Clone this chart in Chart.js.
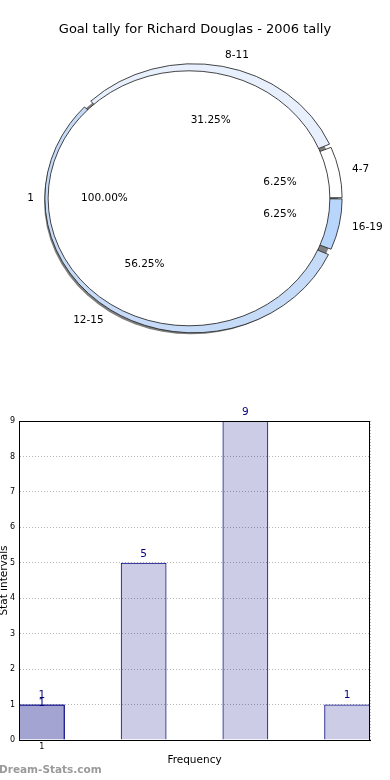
<!DOCTYPE html>
<html>
<head>
<meta charset="utf-8">
<title>Goal tally for Richard Douglas - 2006 tally</title>
<script src="https://cdn.jsdelivr.net/npm/chart.js@4.4.0/dist/chart.umd.min.js"></script>
<style>
  html, body { margin: 0; padding: 0; background: #fff; }
  body { width: 390px; height: 780px; overflow: hidden; position: relative; }
  canvas { position: absolute; left: 0; }
  #pieChart { top: 0; }
  #barChart { top: 360px; }
</style>
</head>
<body>
<canvas id="pieChart" width="390" height="360"></canvas>
<canvas id="barChart" width="390" height="420"></canvas>
<script>
// pie: goal tally bins (outer ring) and the single inner group
const tallyBins = ['4-7', '8-11', '12-15', '16-19'];
const tallyCounts = [1, 5, 9, 1];
const innerLabels = ['1'];
const innerCounts = [1];

// bars: frequency per interval, plus the extra bar drawn over the first one
const freqTickLabels = ['1'];
const freqCounts = [1, 5, 9, 1];
const overlayCounts = [1];

// styles
const ringColors = ['#ffffff', '#e8effd', '#c6dbf8', '#b8d6fb'];
const stretchX = 1.105;
const barWidth = 0.45;
const barFill = 'rgba(0, 0, 128, 0.2)';
const barEdge = '#000080';

Chart.defaults.font.family = '"DejaVu Sans", sans-serif';
Chart.defaults.color = '#000';

// matplotlib starts at 3 o'clock and goes counter-clockwise, Chart.js goes clockwise
const rev = (arr) => arr.slice().reverse();

function ellipseTransform(ctx, arc, shiftX) {
  ctx.translate(arc.x + shiftX, arc.y);
  ctx.scale(stretchX, 1);
  ctx.translate(-arc.x, -arc.y);
}

const ellipsePlugin = {
  id: 'ellipse',
  afterDatasetUpdate(chart, args) {
    // the ring wedges are full wedges, the inner pie covers their middle
    if (args.index !== 0) return;
    args.meta.data.forEach((arc) => {
      arc.innerRadius = 0;
    });
  },
  beforeDatasetsDraw(chart) {
    // shadow below the whole pie
    const ds = chart.data.datasets[0];
    const arc = chart.getDatasetMeta(0).data[0];
    const ctx = chart.ctx;
    ctx.save();
    ctx.translate(-2.5, 3);
    ellipseTransform(ctx, arc, ds.shiftX);
    ctx.fillStyle = 'rgba(0, 0, 0, 0.5)';
    ctx.beginPath();
    ctx.arc(arc.x, arc.y, arc.outerRadius, 0, Math.PI * 2);
    ctx.fill();
    ctx.restore();
  },
  beforeDatasetDraw(chart, args) {
    const ds = chart.data.datasets[args.index];
    const ctx = chart.ctx;
    ctx.save();
    ellipseTransform(ctx, args.meta.data[0], ds.shiftX);
  },
  afterDatasetDraw(chart, args) {
    const ds = chart.data.datasets[args.index];
    const ctx = chart.ctx;
    if (ds.outline) {
      const arc = args.meta.data[0];
      ctx.strokeStyle = ds.outline;
      ctx.lineWidth = 0.8;
      ctx.beginPath();
      ctx.arc(arc.x, arc.y, arc.outerRadius, 0, Math.PI * 2);
      ctx.stroke();
    }
    ctx.restore();
  },
  afterDraw(chart) {
    const ctx = chart.ctx;
    ctx.save();
    ctx.font = '10.5px "DejaVu Sans", sans-serif';
    ctx.fillStyle = '#000';
    ctx.textBaseline = 'middle';
    chart.data.datasets.forEach((ds, di) => {
      const meta = chart.getDatasetMeta(di);
      const total = ds.data.reduce((a, b) => a + b, 0);
      meta.data.forEach((arc, i) => {
        const mid = (arc.startAngle + arc.endAngle) / 2;
        const cx = arc.x + ds.shiftX;
        const cy = arc.y;
        const r = arc.outerRadius;
        const cos = Math.cos(mid);
        const sin = Math.sin(mid);
        ctx.textAlign = cos > 0.001 ? 'left' : cos < -0.001 ? 'right' : 'center';
        ctx.fillText(ds.sliceLabels[i], cx + 1.1 * r * cos * stretchX, cy + 1.1 * r * sin);
        ctx.textAlign = 'center';
        const pct = ((ds.data[i] / total) * 100).toFixed(2) + '%';
        ctx.fillText(pct, cx + 0.6 * r * cos * stretchX, cy + 0.6 * r * sin);
      });
    });
    ctx.restore();
  },
};

new Chart(document.getElementById('pieChart'), {
  type: 'doughnut',
  data: {
    datasets: [
      {
        data: rev(tallyCounts),
        sliceLabels: rev(tallyBins),
        shiftX: -1.5,
        backgroundColor: rev(ringColors),
        borderColor: '#222',
        borderWidth: 0.8,
        spacing: 3,
        weight: 5.5,
        order: 1,
        clip: false,
      },
      {
        data: innerCounts,
        sliceLabels: innerLabels,
        shiftX: -6,
        outline: '#222',
        backgroundColor: '#ffffff',
        borderWidth: 0,
        weight: 127.5,
        order: 0,
        clip: false,
      },
    ],
  },
  options: {
    responsive: false,
    animation: false,
    rotation: 90,
    radius: 133,
    cutout: 0,
    layout: { padding: { top: 0, right: 0, bottom: 1, left: 0 } },
    plugins: {
      legend: { display: false },
      tooltip: { enabled: false },
      title: {
        display: true,
        text: 'Goal tally for Richard Douglas - 2006 tally',
        font: { size: 13, weight: 'normal' },
        color: '#000',
        padding: { top: 22, bottom: 0 },
      },
    },
  },
  plugins: [ellipsePlugin],
});

const barExtras = {
  id: 'barExtras',
  afterDraw(chart) {
    const ctx = chart.ctx;
    const area = chart.chartArea;
    ctx.save();

    // frame round the plot
    ctx.strokeStyle = '#000';
    ctx.lineWidth = 1;
    ctx.strokeRect(area.left + 0.5, area.top + 0.5, area.right - area.left - 1, area.bottom - area.top);

    // value labels
    ctx.font = '10.5px "DejaVu Sans", sans-serif';
    ctx.fillStyle = '#000080';
    ctx.textAlign = 'center';
    ctx.textBaseline = 'middle';
    chart.data.datasets.forEach((ds, di) => {
      chart.getDatasetMeta(di).data.forEach((bar, i) => {
        ctx.fillText(String(ds.data[i].y), bar.x, bar.y - ds.labelLift);
      });
    });

    // watermark
    ctx.font = 'bold 10.5px "DejaVu Sans", sans-serif';
    ctx.fillStyle = '#9a9a9a';
    ctx.textAlign = 'left';
    ctx.fillText('Dream-Stats.com', -1, 410);
    ctx.restore();
  },
};

const toBars = (values) => values.map((v, i) => ({ x: i + barWidth / 2, y: v }));

new Chart(document.getElementById('barChart'), {
  type: 'bar',
  data: {
    datasets: [
      {
        label: 'Frequency',
        data: toBars(freqCounts),
        backgroundColor: barFill,
        borderColor: barEdge,
        borderWidth: 1,
        barPercentage: barWidth,
        categoryPercentage: 1,
        grouped: false,
        labelLift: 9,
      },
      {
        label: 'Overlay',
        data: toBars(overlayCounts),
        backgroundColor: barFill,
        borderColor: barEdge,
        borderWidth: 1,
        barPercentage: barWidth,
        categoryPercentage: 1,
        grouped: false,
        labelLift: 1,
      },
    ],
  },
  options: {
    responsive: false,
    animation: false,
    layout: { padding: { top: 61, right: 20, bottom: 0, left: 0 } },
    plugins: {
      legend: { display: false },
      tooltip: { enabled: false },
    },
    scales: {
      x: {
        type: 'linear',
        min: 0,
        max: freqCounts.length - 1 + barWidth,
        offset: false,
        afterBuildTicks: (scale) => {
          scale.ticks = freqTickLabels.map((t, i) => ({ value: i + barWidth / 2 }));
        },
        afterFit: (scale) => {
          scale.height = 40;
        },
        ticks: {
          callback: (value, index) => freqTickLabels[index],
          autoSkip: false,
          maxRotation: 0,
          padding: 2,
          font: { size: 8 },
          color: '#000',
        },
        grid: { color: '#b4b4b4', drawTicks: false },
        border: { color: '#000', dash: [1, 2] },
        title: {
          display: true,
          text: 'Frequency',
          font: { size: 10.5 },
          color: '#000',
          padding: { top: 0, bottom: 13.7 },
        },
      },
      y: {
        min: 0,
        max: 9,
        afterFit: (scale) => {
          scale.width = 19;
        },
        ticks: { stepSize: 1, padding: 4, font: { size: 8 }, color: '#000' },
        grid: { color: '#b4b4b4', drawTicks: false },
        border: { color: '#000', dash: [1, 2] },
        title: {
          display: true,
          text: 'Stat intervals',
          font: { size: 10.5 },
          color: '#000',
          padding: { top: -2, bottom: 0 },
        },
      },
    },
  },
  plugins: [barExtras],
});
</script>
</body>
</html>
